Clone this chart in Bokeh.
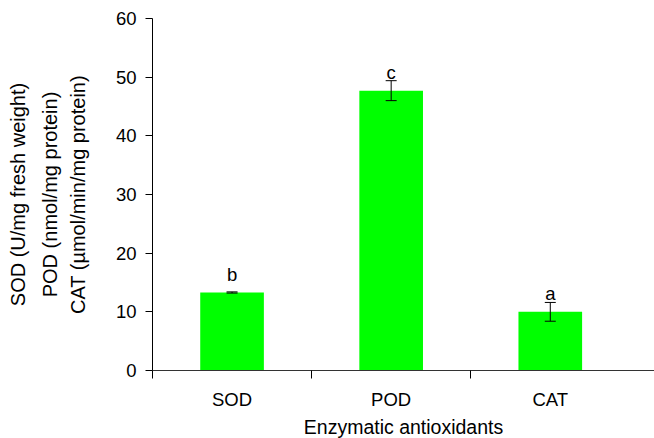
from bokeh.plotting import figure
from bokeh.models import (ColumnDataSource, Range1d, FixedTicker, Whisker, TeeHead, LinearAxis)
from bokeh.core.properties import value
from bokeh.embed import file_html
from bokeh.resources import INLINE

# ---- data ----
categories = ["SOD", "POD", "CAT"]
means = [13.3, 47.7, 10.0]
errors = [0.1, 1.7, 1.6]
letters = ["b", "c", "a"]
y_label_lines = ["SOD (U/mg fresh weight)", "POD (nmol/mg protein)", "CAT (\u00b5mol/min/mg protein)"]
x_title = "Enzymatic antioxidants"

FONT = "Liberation Sans"

xs = [i + 0.5 for i in range(len(categories))]
src = ColumnDataSource(dict(
    x=xs, top=means,
    upper=[m + e for m, e in zip(means, errors)],
    lower=[m - e for m, e in zip(means, errors)],
    ly=[m + 3.1 for m in means],
    letter=letters,
))

p = figure(frame_width=502, frame_height=352, min_border_left=152, min_border_top=18,
           min_border_right=0, min_border_bottom=0,
           x_range=Range1d(0, 3.155), y_range=Range1d(0, 60),
           output_backend="svg", toolbar_location=None)
p.outline_line_color = None
p.xgrid.visible = False
p.ygrid.visible = False
p.background_fill_color = "white"
p.border_fill_color = "white"

p.vbar(x="x", top="top", width=0.4, bottom=0, source=src,
       fill_color="#00ff00", line_color=None)

w = Whisker(base="x", upper="upper", lower="lower", source=src, level="overlay",
            line_color="black", line_width=1,
            upper_head=TeeHead(size=11, line_color="black", line_width=1),
            lower_head=TeeHead(size=11, line_color="black", line_width=1))
p.add_layout(w)

p.text(x="x", y="ly", text="letter", source=src, text_font=value(FONT),
       text_font_size="18.5px", text_align="center", text_baseline="alphabetic",
       text_color="black")

# x axis
xa = p.xaxis[0]
xa.ticker = FixedTicker(ticks=xs, minor_ticks=[0, 1, 2])
xa.major_label_overrides = {x: c for x, c in zip(xs, categories)}
xa.major_tick_in = 0
xa.major_tick_out = 0
xa.minor_tick_in = 0
xa.minor_tick_out = 8
xa.minor_tick_line_color = "black"
xa.axis_line_color = "#333333"
xa.major_label_text_font = FONT
xa.major_label_text_font_size = "18.5px"
xa.major_label_text_color = "black"
xa.major_label_standoff = 10
xa.axis_label = x_title
xa.axis_label_text_font = FONT
xa.axis_label_text_font_size = "19.5px"
xa.axis_label_text_font_style = "normal"
xa.axis_label_text_color = "black"
xa.axis_label_standoff = 3

# y axis
ya = p.yaxis[0]
ya.ticker = FixedTicker(ticks=[0, 10, 20, 30, 40, 50, 60], minor_ticks=[])
ya.major_tick_in = 0
ya.major_tick_out = 7
ya.major_tick_line_color = "black"
ya.axis_line_color = "black"
ya.major_label_text_font = FONT
ya.major_label_text_font_size = "18.5px"
ya.major_label_text_color = "black"
ya.major_label_standoff = 9

def style_label(ax, text, standoff):
    ax.axis_label = text
    ax.axis_label_text_font = FONT
    ax.axis_label_text_font_size = "20px"
    ax.axis_label_text_font_style = "normal"
    ax.axis_label_text_color = "black"
    ax.axis_label_standoff = standoff

style_label(ya, y_label_lines[2], 24)

# extra label-only axes, stacked outward
for line, so in [(y_label_lines[1], 3), (y_label_lines[0], 7)]:
    ax = LinearAxis(ticker=FixedTicker(ticks=[], minor_ticks=[]),
                    axis_line_color=None, major_tick_line_color=None,
                    minor_tick_line_color=None, major_tick_out=0, major_tick_in=0,
                    minor_tick_out=0, minor_tick_in=0,
                    major_label_text_font_size="0px", major_label_standoff=0)
    style_label(ax, line, so)
    p.add_layout(ax, "left")

open("out.html", "w").write(file_html(p, INLINE))
